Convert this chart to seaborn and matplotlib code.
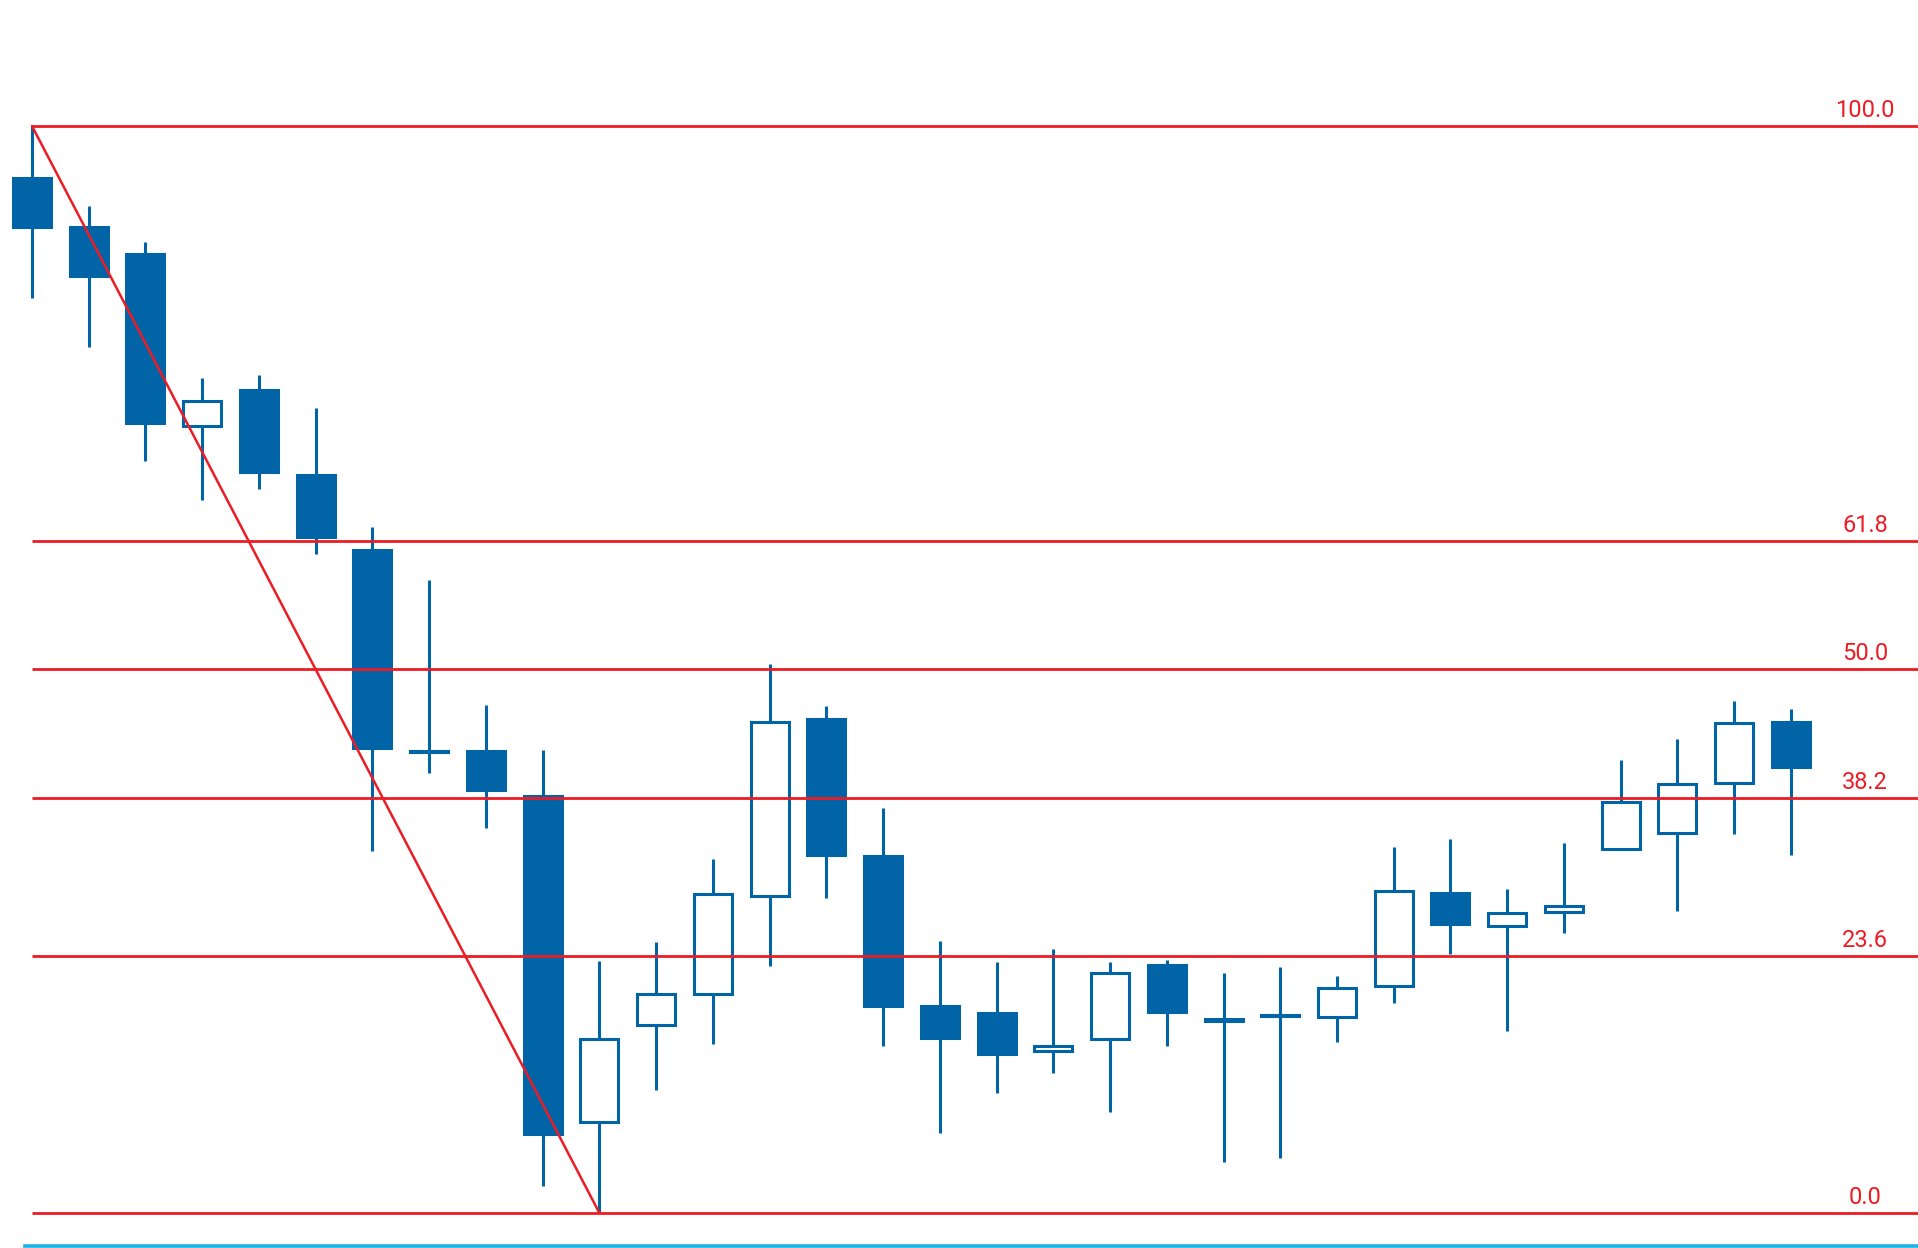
import matplotlib
matplotlib.use("Agg")
import matplotlib.pyplot as plt
import matplotlib.transforms as mtransforms
import numpy as np
import pandas as pd
import seaborn as sns

# candle data (price scaled so the swing is 0..100)
opens  = [95.2, 90.7, 88.2, 72.4, 75.7, 67.9, 61.0, 42.5, 42.5, 38.4,
          8.4, 17.3, 20.1, 29.2, 45.4, 32.8, 19.0, 18.4, 14.9, 16.0,
          22.8, 17.8, 18.2, 18.0, 20.9, 29.4, 26.4, 27.7, 33.5, 35.0,
          39.6, 45.2]
highs  = [100.0, 92.6, 89.3, 76.8, 77.1, 74.1, 63.1, 58.2, 46.7, 42.6,
          23.2, 24.9, 32.6, 50.5, 46.6, 37.3, 25.0, 23.1, 24.3, 23.1,
          23.3, 22.1, 22.6, 21.8, 33.7, 34.4, 29.8, 34.0, 41.7, 43.6,
          47.1, 46.4]
lows   = [84.2, 79.7, 69.2, 65.6, 66.6, 60.6, 33.3, 40.5, 35.4, 2.5,
          0.0, 11.3, 15.5, 22.7, 29.0, 15.4, 7.4, 11.0, 12.9, 9.3,
          15.4, 4.7, 5.1, 15.7, 19.3, 23.8, 16.7, 25.8, 33.5, 27.8,
          34.9, 32.9]
closes = [90.7, 86.2, 72.7, 74.7, 68.2, 62.2, 42.8, 42.4, 38.9, 7.3,
          16.0, 20.1, 29.3, 45.2, 32.9, 19.0, 16.1, 14.6, 15.4, 22.1,
          18.5, 17.7, 18.1, 20.7, 29.6, 26.6, 27.6, 28.2, 37.8, 39.5,
          45.1, 41.0]

fib_ratios = [0.0, 0.236, 0.382, 0.5, 0.618, 1.0]
fib_labels = ["0.0", "23.6", "38.2", "50.0", "61.8", "100.0"]

blue = "#0064a6"
red = "#ed1c24"
cyan = "#1cb2e4"

df = pd.DataFrame({"open": opens, "high": highs, "low": lows, "close": closes})
df["idx"] = np.arange(len(df))
df["bull"] = df["close"] > df["open"]

sns.set_theme(style="white")
plt.rcParams["font.family"] = ["Roboto", "DejaVu Sans"]

fig = plt.figure(figsize=(19.18, 12.48), dpi=100)
ax = fig.add_axes([25 / 1918, 2 / 1248, 1893 / 1918, 1246 / 1248])

# wicks
ax.vlines(df["idx"], df["low"], df["high"], color=blue, linewidth=2.2,
          zorder=2, clip_on=False)

# bodies
body_low = df[["open", "close"]].min(axis=1)
body_h = (df["close"] - df["open"]).abs()
faces = np.where(df["bull"], "white", blue)
ax.bar(df["idx"], body_h, bottom=body_low, width=0.67, color=faces,
       edgecolor=blue, linewidth=2.2, zorder=3, clip_on=False)

# fibonacci retracement
i_hi = int(df["high"].idxmax())
i_lo = int(df["low"].idxmin())
swing_hi = df["high"].max()
swing_lo = df["low"].min()
xmax = 33.24
levels = [swing_lo + r * (swing_hi - swing_lo) for r in fib_ratios]
ax.hlines(levels, i_hi, xmax, color=red, linewidth=2.0, zorder=4)
trend = pd.DataFrame({"x": [i_hi, i_lo], "y": [swing_hi, swing_lo]})
sns.lineplot(data=trend, x="x", y="y", ax=ax, color=red, linewidth=1.8,
             zorder=4)

trans = mtransforms.blended_transform_factory(ax.transAxes, ax.transData)
for lvl, lab in zip(levels, fib_labels):
    ax.annotate(lab, xy=(0.972, lvl), xycoords=trans, xytext=(0, 6.5),
                textcoords="offset points", ha="center", va="baseline",
                color=red, fontsize=17)

ax.set_xlim(-0.123, xmax)
ax.set_ylim(-3.04, 111.59)
ax.set_xlabel("")
ax.set_ylabel("")
ax.set_xticks([])
ax.set_yticks([])
for side in ["top", "left", "right"]:
    ax.spines[side].set_visible(False)
ax.spines["bottom"].set_color(cyan)
ax.spines["bottom"].set_linewidth(2.6)

fig.savefig("out.png", dpi=100)
